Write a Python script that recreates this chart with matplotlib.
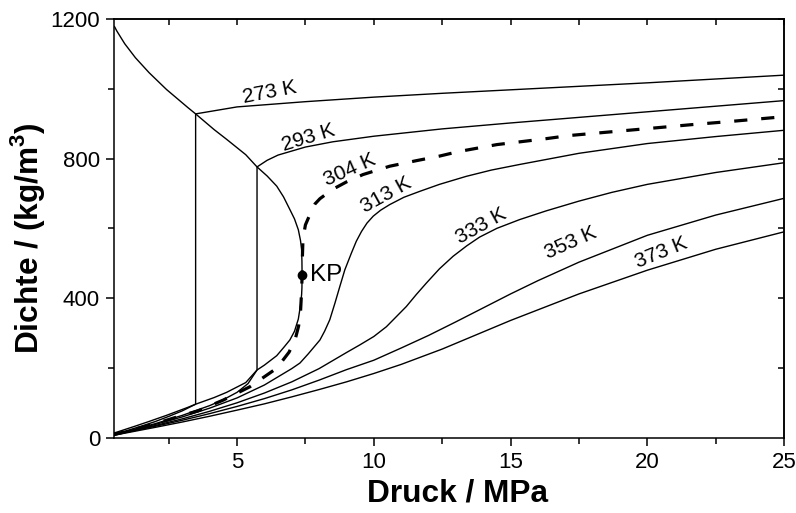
import numpy as np
import matplotlib
matplotlib.use("Agg")
import matplotlib.pyplot as plt

plt.rcParams['font.family'] = ['Liberation Sans', 'DejaVu Sans']
plt.rcParams['mathtext.fontset'] = 'custom'
plt.rcParams['mathtext.rm'] = 'Liberation Sans'
plt.rcParams['mathtext.bf'] = 'Liberation Sans:bold'
plt.rcParams['lines.scale_dashes'] = False

# pressure in MPa, density in kg/m3 (CO2)
sat_liq_p = [0.52, 0.6, 0.893, 1.283, 1.785, 2.419, 3.203, 3.485, 4.161, 4.62, 5.318,
             5.73, 6.1, 6.45, 6.7, 6.93, 7.1, 7.24, 7.32, 7.36, 7.372, 7.377]
sat_liq_rho = [1178, 1166, 1129, 1089, 1046, 998, 946, 928, 883, 855, 811,
               776, 750, 721, 690, 654, 627, 596, 565, 539, 505, 467.6]
sat_vap_p = [7.377, 7.372, 7.36, 7.32, 7.24, 7.1, 6.93, 6.7, 6.45, 6.0, 5.73, 5.318,
             4.62, 4.161, 3.485, 3.203, 2.419, 1.785, 1.283, 0.893, 0.6, 0.52]
sat_vap_rho = [467.6, 430, 410, 380, 340, 305, 280, 258, 235, 208, 194, 158,
               130, 115, 96, 87, 64, 46.6, 33.3, 23.3, 15.8, 14]

t273_p = [0.4, 0.5, 1.0, 1.5, 2.0, 2.5, 3.0, 3.485, 3.485,
          5, 7.5, 10, 12.5, 15, 17.5, 20, 22.5, 25]
t273_rho = [8, 10, 21, 33, 46, 61, 77, 96, 928,
            948, 963, 976, 987, 997, 1007, 1017, 1028, 1039]

t293_p = [0.4, 0.5, 1, 2, 3, 4, 4.5, 5, 5.4, 5.73, 5.73,
          6.1, 6.5, 7.5, 8.5, 10, 12.5, 15, 17.5, 20, 22.5, 25]
t293_rho = [7.4, 9.2, 19, 40, 64, 92, 109, 130, 155, 194, 776,
            795, 810, 833, 848, 864, 885, 902, 918, 934, 950, 966]

t304_p = [0.4, 0.5, 1, 2, 3, 3.58, 4.5, 5.47, 6.45, 6.9, 7.12, 7.25, 7.32, 7.36, 7.38,
          7.39, 7.41, 7.5, 7.72, 7.85, 8.03, 8.5, 9.0, 9.6, 10.58, 11.56, 12.4, 13.1,
          14.5, 16.3, 17.15, 19.45, 21.6, 23, 25]
t304_rho = [7.1, 8.9, 18.8, 40, 64, 77, 108, 146, 199, 245, 280, 320, 360, 420, 470,
            520, 570, 610, 650, 670, 685, 712, 733, 754, 778, 794, 807, 820,
            840, 857, 866, 882, 897, 906, 920]

t313_p = [0.4, 0.5, 1, 2, 3, 4, 5, 6, 7, 7.3, 7.6, 8.03, 8.2, 8.39, 8.58, 8.76, 8.94,
          9.18, 9.36, 9.55, 9.75, 9.98, 10.25, 10.58, 11.1, 11.68, 12.4, 13.38, 14.3,
          15.33, 17.5, 20, 22.5, 25]
t313_rho = [7, 8.7, 17.9, 37.7, 59.6, 84.7, 114, 151, 198, 214, 240, 280, 305, 338,
            386, 434, 481, 529, 563, 591, 615, 635, 652, 668, 689, 706, 726, 749, 767,
            783, 815, 843, 863, 881]

t333_p = [0.4, 0.5, 1, 2, 3, 4, 5, 6, 7, 8, 9, 9.49, 10, 10.46, 10.8, 11.19, 11.55,
          11.92, 12.4, 12.9, 13.4, 13.87, 14.5, 15.33, 16.3, 17.5, 18.7, 20, 22.5, 25]
t333_rho = [6.5, 8.1, 16.8, 34.7, 54, 75.7, 100, 128, 160, 198, 244, 266, 290, 318,
            345, 376, 410, 443, 484, 520, 550, 575, 600, 625, 650, 678, 703, 726,
            760, 788]

t353_p = [0.4, 0.5, 1, 2, 3, 4, 5, 6, 7, 8, 9, 10, 11, 12, 13, 14, 15, 16, 17.5,
          20, 22.5, 25]
t353_rho = [6.1, 7.6, 15.9, 32.5, 50, 69, 89.6, 112, 137, 165, 195, 222, 257, 293, 332,
            372, 412, 450, 503, 580, 638, 686]

t373_p = [0.4, 0.5, 1, 2, 3, 4, 5, 6, 7, 8, 9, 10, 11, 12.5, 15, 17.5, 20, 22.5, 25]
t373_rho = [5.7, 7.2, 14.5, 29.5, 45, 61.5, 79, 97, 117, 138, 160, 184, 210, 254, 336,
            412, 480, 540, 590]

kp = (7.377, 467.6)

labels = ['273 K', '293 K', '304 K', '313 K', '333 K', '353 K', '373 K']
label_pos = [(6.2, 990), (7.6, 860), (9.12, 768), (10.46, 697), (13.93, 606),
             (17.2, 558), (20.5, 529)]
label_rot = [11, 17, 24, 29, 29, 24, 22]

fig = plt.figure(figsize=(7.96, 5.13), dpi=100)
ax = fig.add_axes([0.1432, 0.1468, 0.8418, 0.8162])

lw = 1.0
ax.plot(sat_liq_p, sat_liq_rho, color='black', lw=lw)
ax.plot(sat_vap_p, sat_vap_rho, color='black', lw=lw)
for p, r in [(t273_p, t273_rho), (t293_p, t293_rho), (t313_p, t313_rho),
             (t333_p, t333_rho), (t353_p, t353_rho), (t373_p, t373_rho)]:
    ax.plot(p, r, color='black', lw=lw)
ax.plot(t304_p, t304_rho, color='black', lw=2.3, dashes=(9.5, 10))

ax.plot([kp[0]], [kp[1]], 'o', color='black', ms=6)
ax.text(kp[0] + 0.3, kp[1], 'KP', fontsize=17.5, ha='left', va='center')

for txt, (x, y), rot in zip(labels, label_pos, label_rot):
    ax.text(x, y, txt, fontsize=15, ha='center', va='center', rotation=rot,
            rotation_mode='anchor')

ax.set_xlim(0.5, 25)
ax.set_ylim(0, 1200)
ax.set_xticks([5, 10, 15, 20, 25])
ax.set_xticks([2.5, 7.5, 12.5, 17.5, 22.5], minor=True)
ax.set_yticks([0, 400, 800, 1200])
ax.set_yticks([200, 600, 1000], minor=True)
ax.tick_params(which='major', direction='out', length=6, width=1.1, labelsize=16, pad=4)
ax.tick_params(which='minor', direction='out', length=4, width=1.1)

sx = ax.secondary_xaxis('top')
sx.set_xticks([2.5, 5, 7.5, 10, 12.5, 15, 17.5, 20, 22.5, 25])
sx.tick_params(direction='in', length=4, width=1.1, labeltop=False)
sy = ax.secondary_yaxis('right')
sy.set_yticks([200, 400, 600, 800, 1000, 1200])
sy.tick_params(direction='in', length=4, width=1.1, labelright=False)
for s in list(ax.spines.values()) + [sx.spines['top'], sy.spines['right']]:
    s.set_linewidth(1.1)

ax.set_xlabel('Druck / MPa', fontsize=22.8, fontweight='bold', labelpad=4)
ax.xaxis.label.set_x(0.513)
ax.set_ylabel(r'Dichte / (kg/m$^\mathbf{3}$)', fontsize=22.8, fontweight='bold', labelpad=2.5)
ax.yaxis.label.set_y(0.477)

fig.savefig('out.png', dpi=100)
